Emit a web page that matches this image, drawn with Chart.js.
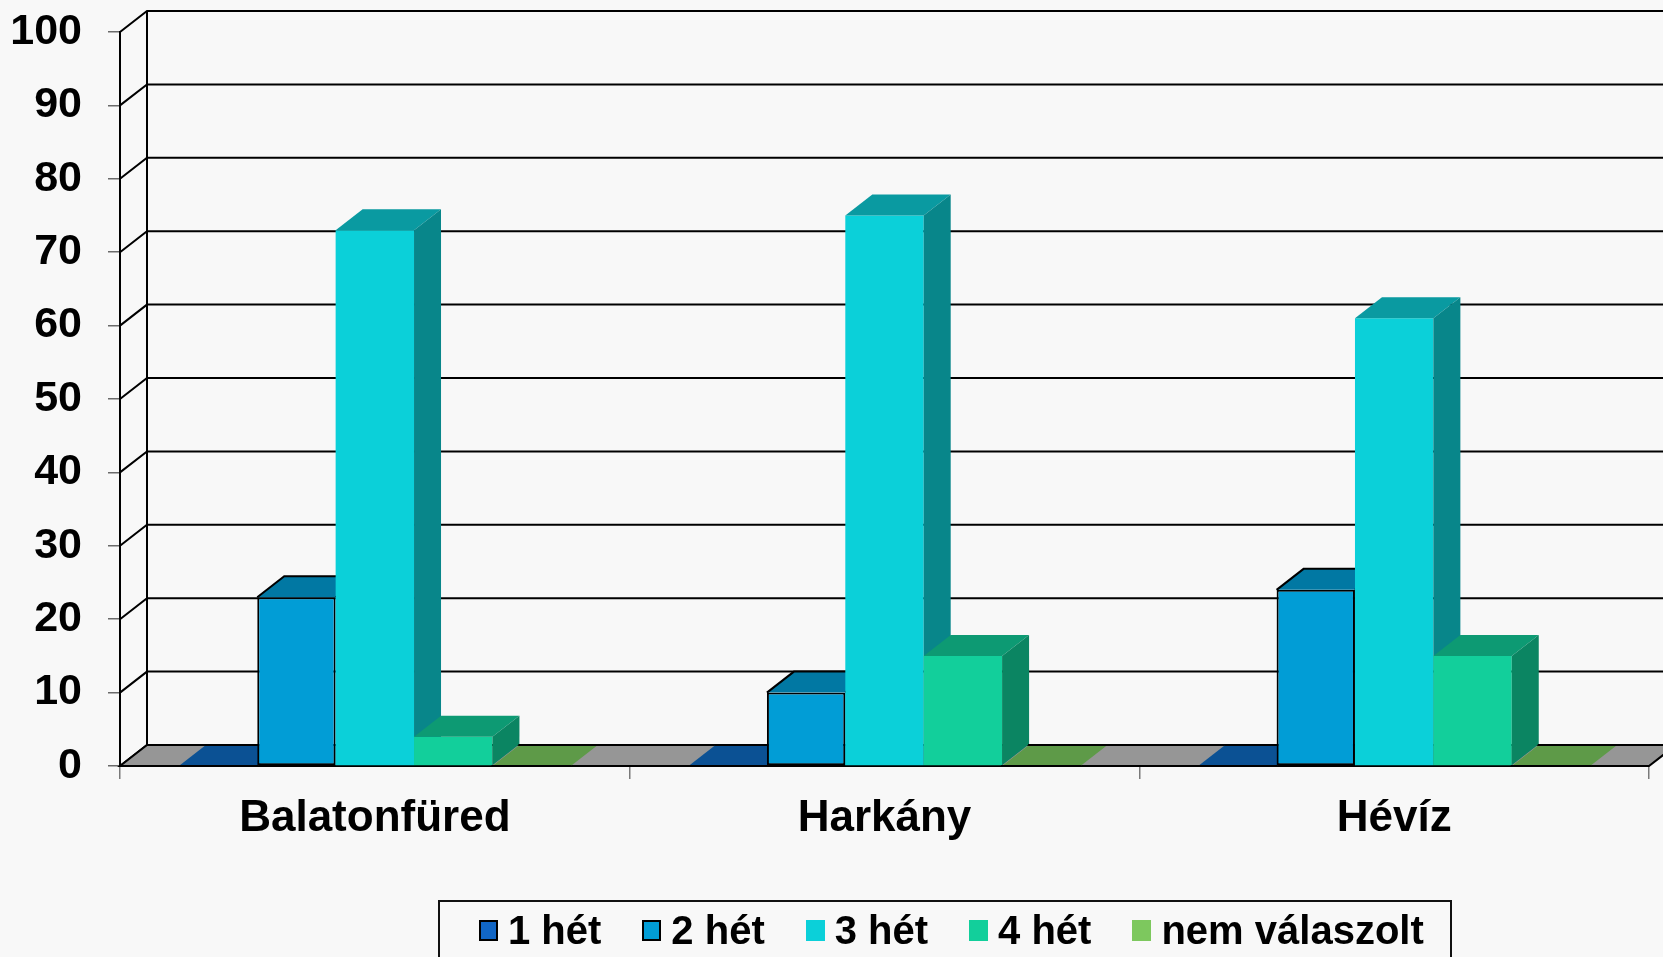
<!DOCTYPE html>
<html lang="hu">
<head>
<meta charset="utf-8">
<title>Tartózkodás hossza</title>
<script src="https://cdn.jsdelivr.net/npm/chart.js@4"></script>
<style>
  html, body { margin: 0; padding: 0; background: #f8f8f8; }
  #wrap { position: relative; width: 1663px; height: 957px; overflow: hidden; }
  #chart { display: block; }
  #legend {
    position: absolute; left: 438px; top: 900px; height: 80px;
    border: 2px solid #111; box-sizing: border-box;
    padding: 8px 26px 0 39px;
    display: flex; align-items: flex-start;
    font-family: "Liberation Sans", Arial, sans-serif; font-weight: bold;
    font-size: 40px; line-height: 40px; color: #000;
  }
  #legend .item { display: flex; align-items: center; height: 40px; margin-right: 41px; white-space: nowrap; }
  #legend .item:last-child { margin-right: 0; }
  #legend .sw { width: 19px; height: 21px; box-sizing: border-box; margin-right: 10px; }
  #legend .sw.edged { border: 2px solid #000; }
</style>
</head>
<body>
<div id="wrap">
  <canvas id="chart" width="1663" height="957"></canvas>
  <div id="legend"></div>
</div>
<script>
// Categories and series values (percent)
const categories = ['Balatonfüred', 'Harkány', 'Hévíz'];
const seriesNames = ['1 hét', '2 hét', '3 hét', '4 hét', 'nem válaszolt'];
const het1 = [0, 0, 0];
const het2 = [23, 10, 24];
const het3 = [73, 75, 61];
const het4 = [4, 15, 15];
const nemValaszolt = [0, 0, 0];
const yTicks = [0, 10, 20, 30, 40, 50, 60, 70, 80, 90, 100];

// Face colours: front, top, side
const frontColors = ['#1166C5', '#019DD6', '#0BD0D9', '#12CF9B', '#7DC85E'];
const topColors   = ['#0B5194', '#0178A3', '#0A9AA1', '#0D9A73', '#5E9A48'];
const sideColors  = ['#0A4680', '#01688E', '#08868A', '#0B8562', '#4E863C'];
const outlined    = [true, true, false, false, false];

const seriesValues = [het1, het2, het3, het4, nemValaszolt];

// Oblique depth offset of the 3D box
const DX = 27, DY = 21;
const FONT = '"Liberation Sans", Arial, sans-serif';
Chart.defaults.font.family = FONT;

function line(ctx, pts) {
  ctx.beginPath();
  ctx.moveTo(pts[0][0], pts[0][1]);
  for (let i = 1; i < pts.length; i++) ctx.lineTo(pts[i][0], pts[i][1]);
}

// Draws walls, floor and the columns back-to-front (left to right within a group)
const box3d = {
  id: 'box3d',
  beforeDatasetsDraw(chart) {
    const { ctx, chartArea: a, scales: { y } } = chart;
    const W = chart.width;
    const y0 = y.getPixelForValue(0);
    const yTop = y.getPixelForValue(100);
    ctx.save();
    ctx.lineWidth = 2;
    ctx.strokeStyle = '#000';
    // back-wall gridlines and left-wall diagonals
    for (const v of yTicks) {
      const py = y.getPixelForValue(v);
      line(ctx, [[a.left, py], [a.left + DX, py - DY], [W + 5, py - DY]]);
      ctx.stroke();
    }
    // back-left wall edge
    line(ctx, [[a.left + DX, y0 - DY], [a.left + DX, yTop - DY]]);
    ctx.stroke();
    // floor
    line(ctx, [[a.left, y0], [a.right, y0], [a.right + DX, y0 - DY], [a.left + DX, y0 - DY]]);
    ctx.closePath();
    ctx.fillStyle = '#969696';
    ctx.fill();
    ctx.stroke();

    // columns: front face by the bar element, then top and side faces
    for (let i = 0; i < chart.data.datasets.length; i++) {
      const meta = chart.getDatasetMeta(i);
      if (!meta.visible) continue;
      for (const el of meta.data) {
        const { x, y: top, base, width } = el.getProps(['x', 'y', 'base', 'width'], true);
        const l = x - width / 2, r = x + width / 2;
        const flat = base - top <= 0.5;
        if (!flat) el.draw(ctx, a);
        ctx.lineWidth = 2;
        ctx.strokeStyle = '#000';
        // top face
        line(ctx, [[l, top], [r, top], [r + DX, top - DY], [l + DX, top - DY]]);
        ctx.closePath();
        ctx.fillStyle = topColors[i];
        ctx.fill();
        if (outlined[i] && !flat) {
          line(ctx, [[l, top], [l + DX, top - DY], [r + DX, top - DY], [r, top]]);
          ctx.stroke();
        }
        // side face
        if (!flat) {
          line(ctx, [[r, top], [r + DX, top - DY], [r + DX, base - DY], [r, base]]);
          ctx.closePath();
          ctx.fillStyle = sideColors[i];
          ctx.fill();
        } else {
          // flat piece lying on the floor: keep the floor edges crisp
          line(ctx, [[l - 1, base], [r + 1, base]]);
          ctx.stroke();
          line(ctx, [[l + DX - 1, base - DY], [r + DX + 1, base - DY]]);
          ctx.stroke();
        }
      }
    }
    ctx.restore();
    return false;
  }
};

const datasets = seriesNames.map((name, i) => ({
  label: name,
  data: seriesValues[i],
  backgroundColor: frontColors[i],
  borderColor: '#000',
  borderWidth: outlined[i] ? 2 : 0,
  borderSkipped: false,
  categoryPercentage: 0.769,
  barPercentage: 1.0
}));

new Chart(document.getElementById('chart'), {
  type: 'bar',
  data: { labels: categories, datasets },
  options: {
    responsive: false,
    animation: false,
    devicePixelRatio: 1,
    layout: { padding: { top: 32, right: 14, left: 0, bottom: 0 } },
    plugins: { legend: { display: false }, tooltip: { enabled: false } },
    scales: {
      x: {
        afterFit(s) { s.height = 191; s.paddingLeft = 0; s.paddingRight = 0; },
        grid: { display: true, drawOnChartArea: false, drawTicks: true, tickLength: 13, color: '#7a7a7a', lineWidth: 1.5, offset: true },
        border: { display: false },
        ticks: { color: '#000', padding: 13, font: { size: 44, weight: 'bold', family: FONT } }
      },
      y: {
        min: 0, max: 100,
        afterFit(s) { s.width = 120; s.paddingTop = 0; s.paddingBottom = 0; },
        afterBuildTicks(s) { s.ticks = yTicks.map(v => ({ value: v })); },
        grid: { display: true, drawOnChartArea: false, drawTicks: true, tickLength: 12, color: '#6a6a6a', lineWidth: 1.5 },
        border: { display: true, color: '#000', width: 2 },
        ticks: { color: '#000', padding: 26, font: { size: 43, weight: 'bold', family: FONT } }
      }
    }
  },
  plugins: [box3d]
});

// Legend built from the same series definitions
const legend = document.getElementById('legend');
seriesNames.forEach((name, i) => {
  const item = document.createElement('div');
  item.className = 'item';
  const sw = document.createElement('span');
  sw.className = 'sw' + (outlined[i] ? ' edged' : '');
  sw.style.background = frontColors[i];
  const tx = document.createElement('span');
  tx.textContent = name;
  item.appendChild(sw);
  item.appendChild(tx);
  legend.appendChild(item);
});
</script>
</body>
</html>
